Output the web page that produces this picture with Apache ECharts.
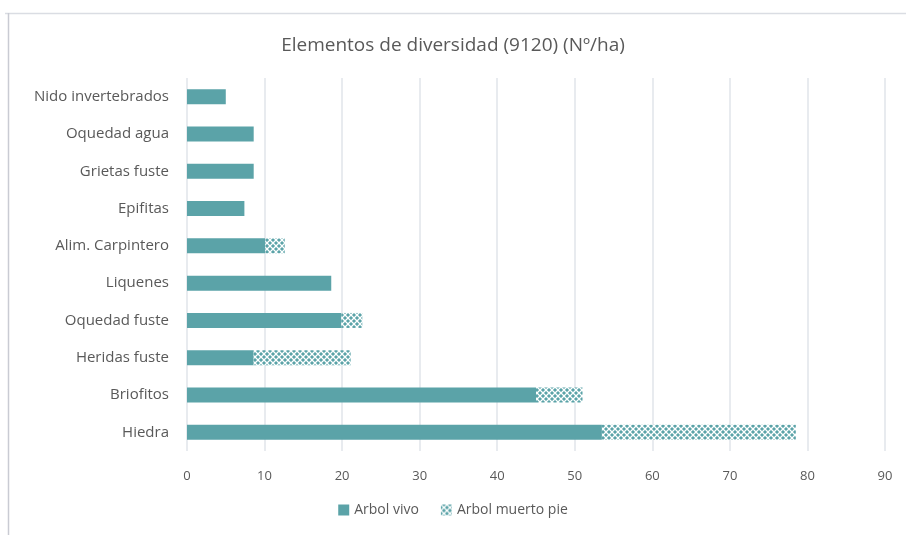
<!DOCTYPE html>
<html>
<head>
<meta charset="utf-8">
<script src="https://cdn.jsdelivr.net/npm/echarts@6/dist/echarts.min.js"></script>
<style>
  html, body { margin: 0; padding: 0; background: #fff; }
  #main { width: 906px; height: 535px; }
</style>
</head>
<body>
<div id="main"></div>
<script>
// categorias, de arriba a abajo
var categorias = ['Nido invertebrados', 'Oquedad agua', 'Grietas fuste', 'Epifitas', 'Alim. Carpintero',
    'Liquenes', 'Oquedad fuste', 'Heridas fuste', 'Briofitos', 'Hiedra'];
var arbolVivo = [5, 8.6, 8.6, 7.4, 10.1, 18.6, 19.9, 8.6, 45, 53.5];
var arbolMuertoPie = [0, 0, 0, 0, 2.5, 0, 2.7, 12.5, 6, 25];
var ticksX = [0, 10, 20, 30, 40, 50, 60, 70, 80, 90];

var teal = '#5ba3a8';
var txt = '#595959';

// trama para "Arbol muerto pie"
function trama() {
    var c = document.createElement('canvas');
    c.width = 6; c.height = 6;
    var ctx = c.getContext('2d');
    ctx.fillStyle = teal;
    ctx.fillRect(0, 0, 6, 6);
    ctx.strokeStyle = '#ffffff';
    ctx.lineWidth = 1.3;
    ctx.beginPath();
    ctx.moveTo(0, 0); ctx.lineTo(6, 6);
    ctx.moveTo(6, 0); ctx.lineTo(0, 6);
    ctx.stroke();
    return c;
}
var patron = { image: trama(), repeat: 'repeat' };

var myChart = echarts.init(document.getElementById('main'));
myChart.setOption({
    animation: false,
    textStyle: { fontFamily: 'Open Sans' },
    title: {
        left: 'center',
        top: 31,
        text: 'Elementos de diversidad (9120) (Nº/ha)',
        textStyle: { color: txt, fontSize: 19, fontWeight: 'normal', fontFamily: 'Open Sans' }
    },
    graphic: [
        { type: 'line', shape: { x1: 5, y1: 13.5, x2: 906, y2: 13.5 }, style: { stroke: '#dadde3', lineWidth: 1.5 } },
        { type: 'line', shape: { x1: 8.5, y1: 13, x2: 8.5, y2: 535 }, style: { stroke: '#c9cbd3', lineWidth: 1.5 } }
    ],
    legend: {
        bottom: 13,
        left: 'center',
        icon: 'rect',
        itemWidth: 11,
        itemHeight: 11,
        itemGap: 22,
        textStyle: { color: txt, fontSize: 14 },
        data: ['Arbol vivo', 'Arbol muerto pie']
    },
    grid: { left: 187, right: 21, top: 78, bottom: 84, containLabel: false },
    xAxis: {
        type: 'value',
        min: 0,
        max: 90,
        interval: 10,
        axisLine: { show: false },
        axisTick: { show: false },
        axisLabel: {
            color: txt, fontSize: 13, margin: 19,
            formatter: function (v) { return ticksX.indexOf(v) >= 0 ? String(v) : ''; }
        },
        splitLine: { lineStyle: { color: '#e1e4ea', width: 1.5 } }
    },
    yAxis: {
        type: 'category',
        inverse: true,
        data: categorias,
        axisLine: { show: false },
        axisTick: { show: false },
        axisLabel: { color: txt, fontSize: 15, margin: 18 }
    },
    series: [
        {
            name: 'Arbol vivo',
            type: 'bar',
            stack: 'total',
            barWidth: 15,
            itemStyle: { color: teal },
            data: arbolVivo
        },
        {
            name: 'Arbol muerto pie',
            type: 'bar',
            stack: 'total',
            barWidth: 15,
            itemStyle: { color: patron },
            data: arbolMuertoPie
        }
    ]
});
</script>
</body>
</html>
